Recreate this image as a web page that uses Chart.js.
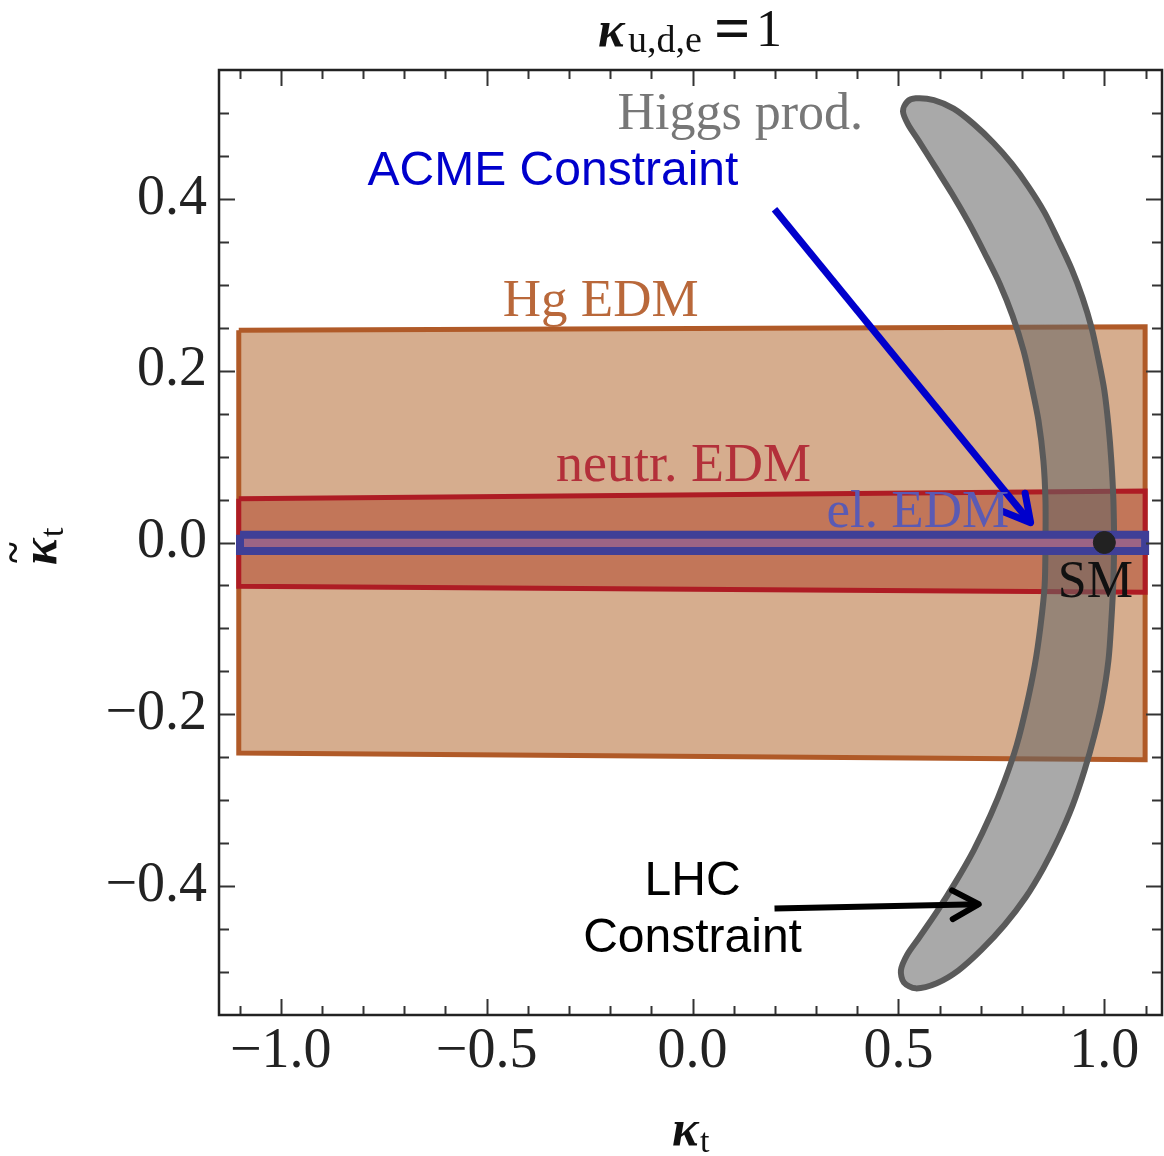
<!DOCTYPE html>
<html>
<head>
<meta charset="utf-8">
<script src="https://cdn.jsdelivr.net/npm/chart.js@4.4.1/dist/chart.umd.min.js"></script>
<style>
  html, body { margin: 0; padding: 0; background: #fff; }
</style>
</head>
<body>
<canvas id="edmChart" width="1164" height="1156"></canvas>
<script>
// axes
const xRange = [-1.15, 1.14];
const yRange = [-0.55, 0.55];
const xTickValues = [-1.0, -0.5, 0.0, 0.5, 1.0];
const xTickLabels = ['−1.0', '−0.5', '0.0', '0.5', '1.0'];
const yTickValues = [-0.4, -0.2, 0.0, 0.2, 0.4];
const yTickLabels = ['−0.4', '−0.2', '0.0', '0.2', '0.4'];
const xMinorStep = 0.1;
const yMinorStep = 0.05;

// Hg EDM allowed box
const hgX = [-1.102, 1.099, 1.099, -1.102, -1.102];
const hgY = [0.247, 0.251, -0.253, -0.245, 0.247];
// neutron EDM allowed box
const nX = [-1.102, 1.099, 1.099, -1.102, -1.102];
const nY = [0.051, 0.060, -0.058, -0.051, 0.051];
// electron EDM allowed band
const eX = [-1.099, 1.099, 1.099, -1.099, -1.099];
const eY = [0.009, 0.009, -0.010, -0.010, 0.009];

// Higgs production allowed crescent: outer edge down, inner edge up, outer edge back down
const higgsX = [1.024, 1.022, 1.017, 1.010, 0.995, 0.976, 0.952, 0.923, 0.889, 0.852, 0.809, 0.758, 0.702, 0.646, 0.593, 0.542, 0.513, 0.506,
  0.521, 0.550, 0.593, 0.639, 0.683, 0.724, 0.758, 0.787, 0.811, 0.831, 0.845, 0.855, 0.857, 0.857, 0.852, 0.840, 0.823, 0.804, 0.777,
  0.746, 0.709, 0.671, 0.630, 0.588, 0.550, 0.523, 0.511, 0.521,
  0.542, 0.586, 0.634, 0.683, 0.731, 0.775, 0.816, 0.855, 0.889, 0.920, 0.947, 0.969, 0.985, 1.000, 1.010, 1.017, 1.022, 1.024];
const higgsY = [0.000, -0.044, -0.091, -0.137, -0.184, -0.224, -0.265, -0.306, -0.344, -0.379, -0.413, -0.445, -0.474, -0.498, -0.513, -0.519, -0.512, -0.498,
  -0.480, -0.460, -0.430, -0.395, -0.358, -0.317, -0.277, -0.236, -0.190, -0.143, -0.097, -0.050, 0.000, 0.049, 0.095, 0.142, 0.183, 0.223, 0.264,
  0.301, 0.337, 0.372, 0.406, 0.438, 0.467, 0.487, 0.502, 0.513,
  0.517, 0.515, 0.505, 0.487, 0.465, 0.441, 0.414, 0.384, 0.351, 0.319, 0.285, 0.250, 0.215, 0.177, 0.136, 0.095, 0.049, 0.000];

// Standard Model point
const smPoint = [1.0, 0.0];

// annotation arrows [x0, y0, x1, y1]
const acmeArrow = [0.199, 0.388, 0.821, 0.023];
const lhcArrow = [0.199, -0.426, 0.695, -0.421];

// text labels
const labelTexts = ['Higgs prod.', 'ACME Constraint', 'Hg EDM', 'neutr. EDM', 'el. EDM', 'SM', 'LHC', 'Constraint'];
const labelX = [0.116, -0.339, -0.223, -0.022, 0.547, 0.978, 0.0, 0.0];
const labelY = [0.481, 0.416, 0.264, 0.072, 0.0186, -0.064, -0.41, -0.477];
const labelColors = ['#777777', '#0000cc', '#b9683a', '#b3303a', '#5a5ab4', '#111111', '#000000', '#000000'];
const labelFonts = ['52px "Liberation Serif"', '48px "Liberation Sans"', '53px "Liberation Serif"',
  '54px "Liberation Serif"', '53px "Liberation Serif"', '52px "Liberation Serif"',
  '48px "Liberation Sans"', '48px "Liberation Sans"'];

const pts = (xs, ys) => xs.map((v, i) => ({ x: v, y: ys[i] }));

const boxStyle = (fill, line, w, order) => ({
  showLine: true, fill: 'shape', tension: 0, pointRadius: 0,
  backgroundColor: fill, borderColor: line, borderWidth: w,
  borderJoinStyle: 'miter', order: order
});

const frameTicks = {
  id: 'frameTicks',
  afterDatasetsDraw(chart) {
    const { ctx, chartArea: a, scales: { x, y } } = chart;
    ctx.save();
    ctx.strokeStyle = '#333';
    ctx.lineWidth = 2;
    const seg = (x0, y0, x1, y1) => { ctx.beginPath(); ctx.moveTo(x0, y0); ctx.lineTo(x1, y1); ctx.stroke(); };
    for (let i = Math.ceil(xRange[0] / xMinorStep); i * xMinorStep < xRange[1]; i++) {
      const v = i * xMinorStep;
      const px = Math.round(x.getPixelForValue(v)) + 0.5;
      const major = xTickValues.some(t => Math.abs(t - v) < 1e-6);
      const len = major ? 16 : 9;
      seg(px, a.bottom, px, a.bottom - len);
      seg(px, a.top, px, a.top + len);
    }
    for (let i = Math.ceil(yRange[0] / yMinorStep + 1e-6); i * yMinorStep < yRange[1] - 1e-6; i++) {
      const v = i * yMinorStep;
      const py = Math.round(y.getPixelForValue(v)) + 0.5;
      const major = yTickValues.some(t => Math.abs(t - v) < 1e-6);
      const len = major ? 16 : 10;
      seg(a.left, py, a.left + len, py);
      seg(a.right, py, a.right - len, py);
    }
    ctx.lineWidth = 2.5;
    ctx.strokeStyle = '#222';
    ctx.strokeRect(a.left, a.top, a.right - a.left, a.bottom - a.top);

    // arrow heads
    chart.data.datasets.forEach((ds, di) => {
      if (!ds.arrowHead) return;
      const p = chart.getDatasetMeta(di).data;
      const p0 = p[p.length - 2], p1 = p[p.length - 1];
      const ang = Math.atan2(p1.y - p0.y, p1.x - p0.x);
      const L = 30, spread = 0.5;
      ctx.strokeStyle = ds.borderColor;
      ctx.lineWidth = ds.borderWidth;
      ctx.lineCap = 'round';
      ctx.lineJoin = 'round';
      ctx.beginPath();
      ctx.moveTo(p1.x - L * Math.cos(ang - spread), p1.y - L * Math.sin(ang - spread));
      ctx.lineTo(p1.x, p1.y);
      ctx.lineTo(p1.x - L * Math.cos(ang + spread), p1.y - L * Math.sin(ang + spread));
      ctx.stroke();
    });

    // region labels
    ctx.textAlign = 'center';
    ctx.textBaseline = 'alphabetic';
    labelTexts.forEach((t, i) => {
      ctx.font = labelFonts[i];
      ctx.fillStyle = labelColors[i];
      ctx.fillText(t, x.getPixelForValue(labelX[i]), y.getPixelForValue(labelY[i]));
    });
    ctx.restore();
  },
  afterDraw(chart) {
    const { ctx } = chart;
    ctx.save();
    ctx.fillStyle = '#111';
    ctx.textBaseline = 'alphabetic';
    ctx.textAlign = 'left';
    // title: kappa_{u,d,e} = 1
    ctx.font = 'italic bold 50px "Liberation Serif"';
    ctx.fillText('κ', 598, 46);
    ctx.font = '38px "Liberation Serif"';
    ctx.fillText('u,d,e', 628, 52);
    ctx.font = 'bold 64px "Liberation Serif"';
    ctx.fillText('=', 714, 50);
    ctx.font = '52px "Liberation Serif"';
    ctx.fillText('1', 756, 46);
    // x axis title
    ctx.font = 'italic bold 50px "Liberation Serif"';
    ctx.fillText('κ', 672, 1145);
    ctx.font = '34px "Liberation Serif"';
    ctx.fillText('t', 700, 1152);
    // y axis title (rotated)
    ctx.translate(56, 565);
    ctx.rotate(-Math.PI / 2);
    ctx.font = 'italic bold 50px "Liberation Serif"';
    ctx.fillText('κ', 0, 0);
    ctx.font = 'bold 40px "Liberation Serif"';
    ctx.fillText('~', 2, -30);
    ctx.font = '34px "Liberation Serif"';
    ctx.fillText('t', 28, 7);
    ctx.restore();
  }
};

const config = {
  type: 'scatter',
  data: {
    datasets: [
      { label: 'SM', data: [{ x: smPoint[0], y: smPoint[1] }], pointRadius: 11,
        backgroundColor: '#222', borderColor: '#222', order: 0 },
      { label: 'ACME arrow', data: [{ x: acmeArrow[0], y: acmeArrow[1] }, { x: acmeArrow[2], y: acmeArrow[3] }],
        showLine: true, pointRadius: 0, borderColor: '#0000cc', borderWidth: 7, arrowHead: true, order: 1 },
      { label: 'LHC arrow', data: [{ x: lhcArrow[0], y: lhcArrow[1] }, { x: lhcArrow[2], y: lhcArrow[3] }],
        showLine: true, pointRadius: 0, borderColor: '#000', borderWidth: 6, arrowHead: true, order: 1 },
      Object.assign({ label: 'el. EDM', data: pts(eX, eY) }, boxStyle('#9b6485', '#3f3f97', 8, 2)),
      { label: 'Higgs prod.', data: pts(higgsX, higgsY), showLine: true, fill: 'shape',
        tension: 0.3, pointRadius: 0, backgroundColor: 'rgba(100,100,100,0.555)',
        borderColor: '#5a5a5a', borderWidth: 6, order: 3 },
      Object.assign({ label: 'neutr. EDM', data: pts(nX, nY) }, boxStyle('#c27659', '#ae1c24', 5, 4)),
      Object.assign({ label: 'Hg EDM', data: pts(hgX, hgY) }, boxStyle('#d6ad8e', '#b05a28', 5, 5))
    ]
  },
  options: {
    responsive: false,
    animation: false,
    devicePixelRatio: 1,
    layout: { autoPadding: false, padding: { top: 70, right: 2, left: 0, bottom: 0 } },
    plugins: { legend: { display: false }, tooltip: { enabled: false } },
    scales: {
      x: {
        type: 'linear', min: xRange[0], max: xRange[1],
        grid: { display: false, drawTicks: false },
        border: { display: false },
        afterBuildTicks: s => { s.ticks = xTickValues.map(v => ({ value: v })); },
        afterFit: s => { s.height = 141; s.paddingLeft = 0; s.paddingRight = 0; },
        ticks: {
          callback: (v, i) => xTickLabels[i],
          font: { family: 'Liberation Serif', size: 56 },
          color: '#222', padding: 4, maxRotation: 0, autoSkip: false
        }
      },
      y: {
        type: 'linear', min: yRange[0], max: yRange[1],
        grid: { display: false, drawTicks: false },
        border: { display: false },
        afterBuildTicks: s => { s.ticks = yTickValues.map(v => ({ value: v })); },
        afterFit: s => { s.width = 219; s.paddingTop = 0; s.paddingBottom = 0; },
        ticks: {
          callback: (v, i) => yTickLabels[i],
          font: { family: 'Liberation Serif', size: 56 },
          color: '#222', padding: 12, autoSkip: false
        }
      }
    }
  },
  plugins: [frameTicks]
};

window.addEventListener('load', () => {
  const ctx = document.getElementById('edmChart').getContext('2d');
  new Chart(ctx, config);
});
</script>
</body>
</html>
